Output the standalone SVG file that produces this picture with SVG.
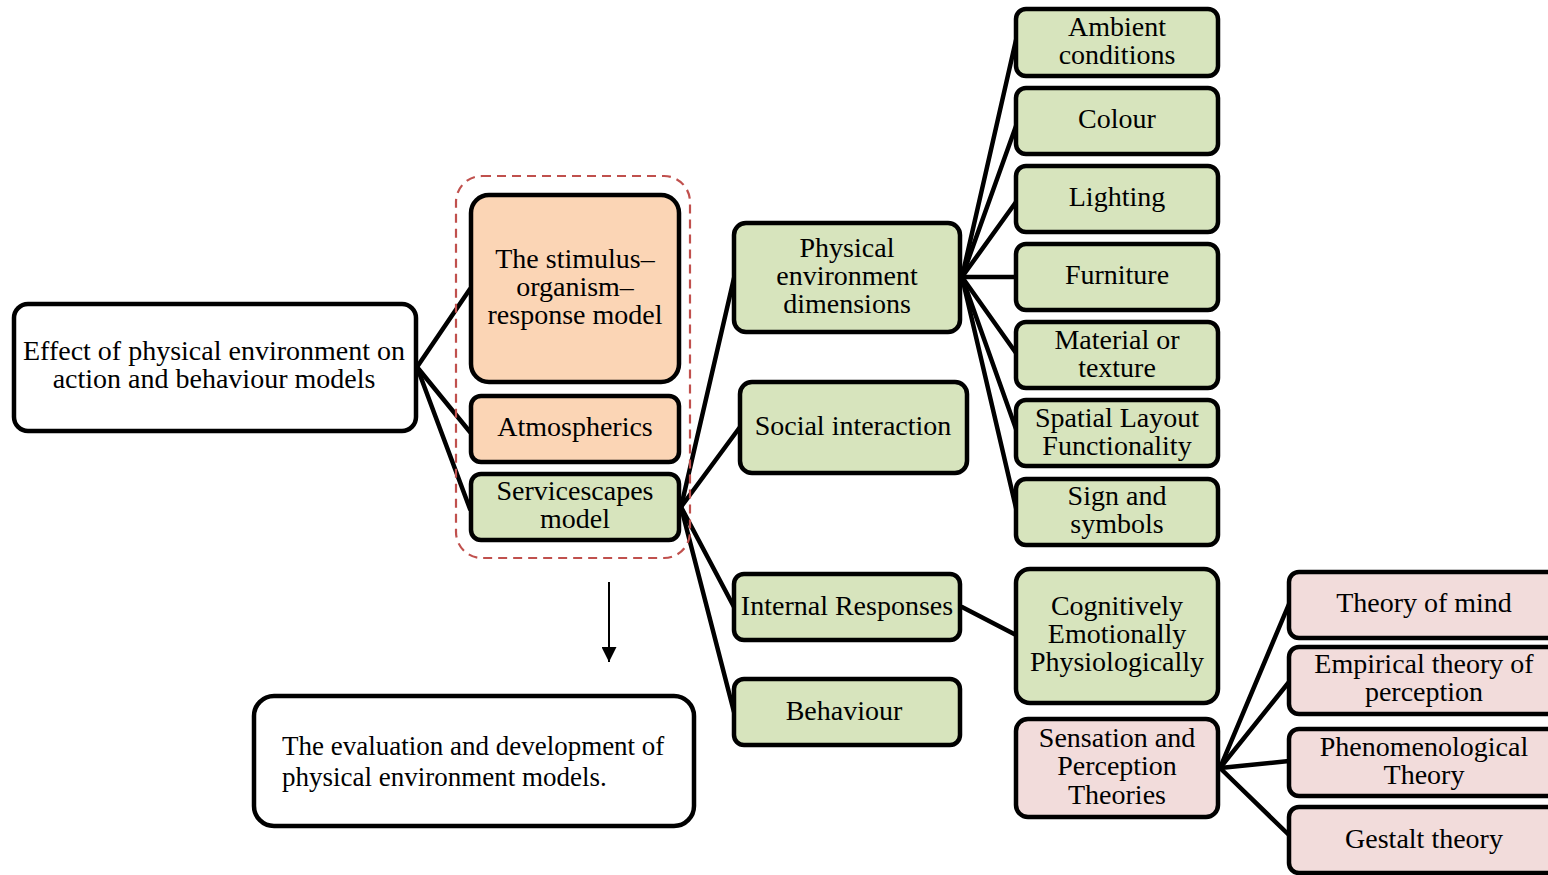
<svg xmlns="http://www.w3.org/2000/svg" width="1548" height="875" viewBox="0 0 1548 875">
  <defs>
    <style>
      .box { stroke: #000; stroke-width: 4.5; }
      .white { fill: #ffffff; }
      .peach { fill: #fbd5b5; }
      .green { fill: #d7e4bd; }
      .pink { fill: #f2dcdb; }
      .lbl { font-family: "Liberation Serif", "Times New Roman", serif; font-size: 28px; fill: #000; text-anchor: middle; }
      .left { text-anchor: start; font-size: 27px; }
      .conn { stroke: #000; stroke-width: 4.5; fill: none; stroke-linecap: round; }
      .group { fill: none; stroke: #c0504d; stroke-width: 2.2; stroke-dasharray: 9 6; }
    </style>
    <marker id="arrowhead" viewBox="0 0 10 10" refX="10" refY="5" markerWidth="7.5" markerHeight="7.5" markerUnits="strokeWidth" orient="auto">
      <path d="M0,0 L10,5 L0,10 z" fill="#000"/>
    </marker>
  </defs>
  <rect width="1548" height="875" fill="#ffffff"/>

  <!-- connectors -->
  <g id="connectors">
    <line class="conn" x1="417" y1="367" x2="470" y2="289"/>
    <line class="conn" x1="417" y1="367" x2="470" y2="432"/>
    <line class="conn" x1="417" y1="367" x2="470" y2="509"/>

    <line class="conn" x1="681" y1="507" x2="734" y2="278"/>
    <line class="conn" x1="681" y1="507" x2="740" y2="427"/>
    <line class="conn" x1="681" y1="507" x2="734" y2="607"/>
    <line class="conn" x1="681" y1="507" x2="734" y2="712"/>

    <line class="conn" x1="962" y1="277" x2="1016" y2="40"/>
    <line class="conn" x1="962" y1="277" x2="1016" y2="126"/>
    <line class="conn" x1="962" y1="277" x2="1016" y2="202"/>
    <line class="conn" x1="962" y1="277" x2="1016" y2="277"/>
    <line class="conn" x1="962" y1="277" x2="1016" y2="353"/>
    <line class="conn" x1="962" y1="277" x2="1016" y2="429"/>
    <line class="conn" x1="962" y1="277" x2="1016" y2="508"/>

    <line class="conn" x1="962" y1="607" x2="1016" y2="635"/>

    <line class="conn" x1="1220" y1="768" x2="1289" y2="604"/>
    <line class="conn" x1="1220" y1="768" x2="1289" y2="682"/>
    <line class="conn" x1="1220" y1="768" x2="1289" y2="761"/>
    <line class="conn" x1="1220" y1="768" x2="1289" y2="835"/>

    <line x1="609" y1="582" x2="609" y2="662" stroke="#000" stroke-width="2" marker-end="url(#arrowhead)"/>
  </g>

  <!-- dashed grouping of the three models -->
  <rect class="group" x="456" y="176" width="234" height="382" rx="26"/>

  <g id="root">
    <rect class="box white" x="14" y="304" width="402" height="127" rx="14"/>
    <text class="lbl" x="214" y="360">Effect of physical environment on</text>
    <text class="lbl" x="214" y="388">action and behaviour models</text>
  </g>

  <g id="stimulus">
    <rect class="box peach" x="471" y="195" width="208" height="187" rx="18"/>
    <text class="lbl" x="575" y="268">The stimulus–</text>
    <text class="lbl" x="575" y="296">organism–</text>
    <text class="lbl" x="575" y="324">response model</text>
  </g>

  <g id="atmospherics">
    <rect class="box peach" x="471" y="396" width="208" height="66" rx="10"/>
    <text class="lbl" x="575" y="436">Atmospherics</text>
  </g>

  <g id="servicescapes">
    <rect class="box green" x="471" y="474" width="208" height="66" rx="10"/>
    <text class="lbl" x="575" y="500">Servicescapes</text>
    <text class="lbl" x="575" y="528">model</text>
  </g>

  <g id="physical">
    <rect class="box green" x="734" y="223" width="226" height="109" rx="12"/>
    <text class="lbl" x="847" y="257">Physical</text>
    <text class="lbl" x="847" y="285">environment</text>
    <text class="lbl" x="847" y="313">dimensions</text>
  </g>

  <g id="social">
    <rect class="box green" x="740" y="382" width="227" height="91" rx="12"/>
    <text class="lbl" x="853" y="435">Social interaction</text>
  </g>

  <g id="internal">
    <rect class="box green" x="734" y="574" width="226" height="66" rx="10"/>
    <text class="lbl" x="847" y="615">Internal Responses</text>
  </g>

  <g id="behaviour">
    <rect class="box green" x="734" y="679" width="226" height="66" rx="10"/>
    <text class="lbl" x="844" y="720">Behaviour</text>
  </g>

  <g id="ambient">
    <rect class="box green" x="1016" y="9" width="202" height="67" rx="10"/>
    <text class="lbl" x="1117" y="36">Ambient</text>
    <text class="lbl" x="1117" y="64">conditions</text>
  </g>

  <g id="colour">
    <rect class="box green" x="1016" y="88" width="202" height="66" rx="10"/>
    <text class="lbl" x="1117" y="128">Colour</text>
  </g>

  <g id="lighting">
    <rect class="box green" x="1016" y="166" width="202" height="66" rx="10"/>
    <text class="lbl" x="1117" y="206">Lighting</text>
  </g>

  <g id="furniture">
    <rect class="box green" x="1016" y="244" width="202" height="66" rx="10"/>
    <text class="lbl" x="1117" y="284">Furniture</text>
  </g>

  <g id="material">
    <rect class="box green" x="1016" y="322" width="202" height="66" rx="10"/>
    <text class="lbl" x="1117" y="349">Material or</text>
    <text class="lbl" x="1117" y="377">texture</text>
  </g>

  <g id="spatial">
    <rect class="box green" x="1016" y="400" width="202" height="66" rx="10"/>
    <text class="lbl" x="1117" y="427">Spatial Layout</text>
    <text class="lbl" x="1117" y="455">Functionality</text>
  </g>

  <g id="signs">
    <rect class="box green" x="1016" y="479" width="202" height="66" rx="10"/>
    <text class="lbl" x="1117" y="505">Sign and</text>
    <text class="lbl" x="1117" y="533">symbols</text>
  </g>

  <g id="responses">
    <rect class="box green" x="1016" y="569" width="202" height="134" rx="14"/>
    <text class="lbl" x="1117" y="615">Cognitively</text>
    <text class="lbl" x="1117" y="643">Emotionally</text>
    <text class="lbl" x="1117" y="671">Physiologically</text>
  </g>

  <g id="sensation">
    <rect class="box pink" x="1016" y="719" width="202" height="98" rx="12"/>
    <text class="lbl" x="1117" y="747">Sensation and</text>
    <text class="lbl" x="1117" y="775">Perception</text>
    <text class="lbl" x="1117" y="804">Theories</text>
  </g>

  <g id="theory-of-mind">
    <rect class="box pink" x="1289" y="572" width="272" height="66" rx="10"/>
    <text class="lbl" x="1424" y="612">Theory of mind</text>
  </g>

  <g id="empirical">
    <rect class="box pink" x="1289" y="647" width="272" height="67" rx="10"/>
    <text class="lbl" x="1424" y="673">Empirical theory of</text>
    <text class="lbl" x="1424" y="701">perception</text>
  </g>

  <g id="phenomenological">
    <rect class="box pink" x="1289" y="729" width="272" height="67" rx="10"/>
    <text class="lbl" x="1424" y="756">Phenomenological</text>
    <text class="lbl" x="1424" y="784">Theory</text>
  </g>

  <g id="gestalt">
    <rect class="box pink" x="1289" y="807" width="272" height="66" rx="10"/>
    <text class="lbl" x="1424" y="848">Gestalt theory</text>
  </g>

  <g id="evaluation">
    <rect class="box white" x="254" y="696" width="440" height="130" rx="20"/>
    <text class="lbl left" x="282" y="755">The evaluation and development of</text>
    <text class="lbl left" x="282" y="786">physical environment models.</text>
  </g>
</svg>
